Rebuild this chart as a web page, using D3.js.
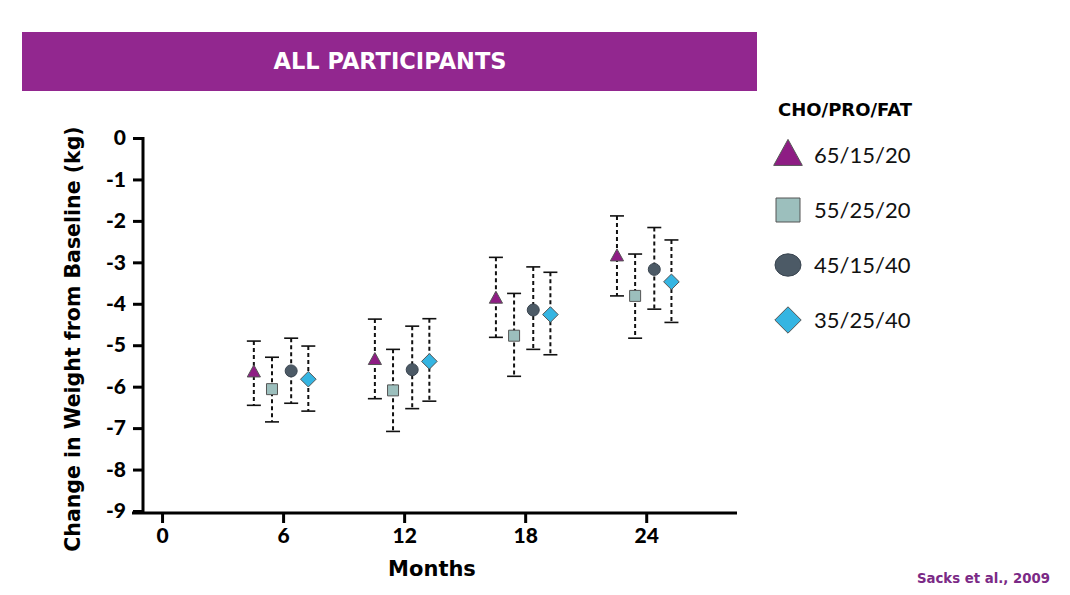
<!DOCTYPE html>
<html><head><meta charset="utf-8">
<script src="https://cdn.jsdelivr.net/npm/d3@7"></script>
<style>body{margin:0;background:#fff}svg{display:block}text{font-family:Lato,"Open Sans",sans-serif}.dv{font-family:"DejaVu Sans",sans-serif}</style>
</head><body><svg id="c" width="1070" height="595"></svg>
<script>
const months = [6, 12, 18, 24];
const seriesNames = ["65/15/20", "55/25/20", "45/15/40", "35/25/40"];
const seriesShapes = ["triangle", "square", "circle", "diamond"];
const seriesColors = ["#8E1D84", "#9CBFBD", "#4C5A66", "#35B5E2"];
const monthOffsets = [-1.45, -0.55, 0.4, 1.25];
const means = [
  [-5.65, -5.35, -3.87, -2.85],
  [-6.06, -6.09, -4.77, -3.81],
  [-5.62, -5.59, -4.15, -3.17],
  [-5.82, -5.39, -4.26, -3.47]
];
const lowers = [
  [-6.45, -6.29, -4.81, -3.81],
  [-6.85, -7.08, -5.75, -4.83],
  [-6.40, -6.53, -5.10, -4.13],
  [-6.59, -6.35, -5.23, -4.45]
];
const uppers = [
  [-4.90, -4.37, -2.88, -1.88],
  [-5.29, -5.10, -3.75, -2.80],
  [-4.83, -4.54, -3.11, -2.16],
  [-5.02, -4.36, -3.24, -2.46]
];
const xTicks = [0, 6, 12, 18, 24];
const yTicks = [0, -1, -2, -3, -4, -5, -6, -7, -8, -9];

const svg = d3.select("#c");
const x = d3.scaleLinear().domain([-1.44, 28.5]).range([133, 737]);
const y = d3.scaleLinear().domain([0, -9]).range([138, 511]);

// Banner
svg.append("rect").attr("x", 22).attr("y", 32).attr("width", 735).attr("height", 59).attr("fill", "#92278F");
svg.append("text").attr("class", "dv").attr("x", 390).attr("y", 69).attr("text-anchor", "middle").attr("fill", "#fff")
  .attr("font-size", 22.5).attr("font-weight", 700).text("ALL PARTICIPANTS");

// Axes
const yAxis = svg.append("g").attr("transform", "translate(143,0)")
  .call(d3.axisLeft(y).tickValues(yTicks).tickFormat(d => d === 0 ? "0" : "-" + Math.abs(d)).tickSize(10).tickSizeOuter(0).tickPadding(7));
yAxis.select(".domain").remove();
svg.append("line").attr("x1", 143).attr("x2", 143).attr("y1", 137).attr("y2", 514).attr("stroke", "#000").attr("stroke-width", 3);
yAxis.selectAll(".tick line").attr("stroke-width", 3);
yAxis.selectAll("text").attr("font-size", 21).attr("font-weight", 900).attr("fill", "#000");

const xAxis = svg.append("g").attr("transform", "translate(0,513)")
  .call(d3.axisBottom(x).tickValues(xTicks).tickSize(10).tickSizeOuter(0).tickPadding(5));
xAxis.select(".domain").remove();
svg.append("line").attr("x1", 132).attr("x2", 737).attr("y1", 513).attr("y2", 513).attr("stroke", "#000").attr("stroke-width", 3);
xAxis.selectAll(".tick line").attr("stroke-width", 3);
xAxis.selectAll("text").attr("font-size", 21).attr("font-weight", 900).attr("fill", "#000");

svg.append("text").attr("class", "dv").attr("x", 432).attr("y", 576).attr("text-anchor", "middle").attr("font-size", 21).attr("font-weight", 700).text("Months");
svg.append("text").attr("class", "dv").attr("transform", "translate(80,339) rotate(-90)").attr("text-anchor", "middle").attr("font-size", 20.5).attr("font-weight", 700).text("Change in Weight from Baseline (kg)");

function shapePath(shape, s) {
  if (shape === "triangle") return `M0,${-s*0.6}L${s*0.55},${s*0.4}L${-s*0.55},${s*0.4}Z`;
  if (shape === "square") return `M${-s/2},${-s/2}h${s}v${s}h${-s}Z`;
  if (shape === "diamond") return `M0,${-s*0.6}L${s*0.6},0L0,${s*0.6}L${-s*0.6},0Z`;
  return null;
}
function drawMarker(g, shape, color, s, cx, cy, ellipse) {
  if (shape === "circle") {
    g.append("ellipse").attr("cx", cx).attr("cy", cy).attr("rx", s/2).attr("ry", ellipse ? s*0.43 : s/2)
      .attr("fill", color).attr("stroke", "#3a4550").attr("stroke-width", 1);
  } else {
    g.append("path").attr("d", shapePath(shape, s)).attr("transform", `translate(${cx},${cy})`)
      .attr("fill", color).attr("stroke", "#555").attr("stroke-width", 1);
  }
}

const plot = svg.append("g");
seriesNames.forEach((name, si) => {
  months.forEach((m, mi) => {
    const cx = x(m + monthOffsets[si]);
    plot.append("line").attr("x1", cx).attr("x2", cx).attr("y1", y(uppers[si][mi])).attr("y2", y(lowers[si][mi]))
      .attr("stroke", "#111").attr("stroke-width", 2).attr("stroke-dasharray", "4,3");
    [uppers[si][mi], lowers[si][mi]].forEach(v => {
      plot.append("line").attr("x1", cx - 7).attr("x2", cx + 7).attr("y1", y(v)).attr("y2", y(v))
        .attr("stroke", "#111").attr("stroke-width", 1.6);
    });
    drawMarker(plot, seriesShapes[si], seriesColors[si], [12, 11, 12, 13][si], cx, y(means[si][mi]), false);
  });
});

// Legend
const lg = svg.append("g");
lg.append("text").attr("class", "dv").attr("x", 778).attr("y", 116).attr("font-size", 18).attr("font-weight", 700).text("CHO/PRO/FAT");
const legY = [155, 210, 265, 320];
seriesNames.forEach((name, si) => {
  drawMarker(lg, seriesShapes[si], seriesColors[si], [26, 24, 26, 22][si], 788, legY[si], true);
  lg.append("text").attr("x", 814).attr("y", legY[si] + 8).attr("font-size", 22).attr("fill", "#111").text(name);
});

svg.append("text").attr("class", "dv").attr("x", 1050).attr("y", 583).attr("text-anchor", "end").attr("font-size", 13.3).attr("font-weight", 700).attr("fill", "#7B2A86").text("Sacks et al., 2009");
</script></body></html>
